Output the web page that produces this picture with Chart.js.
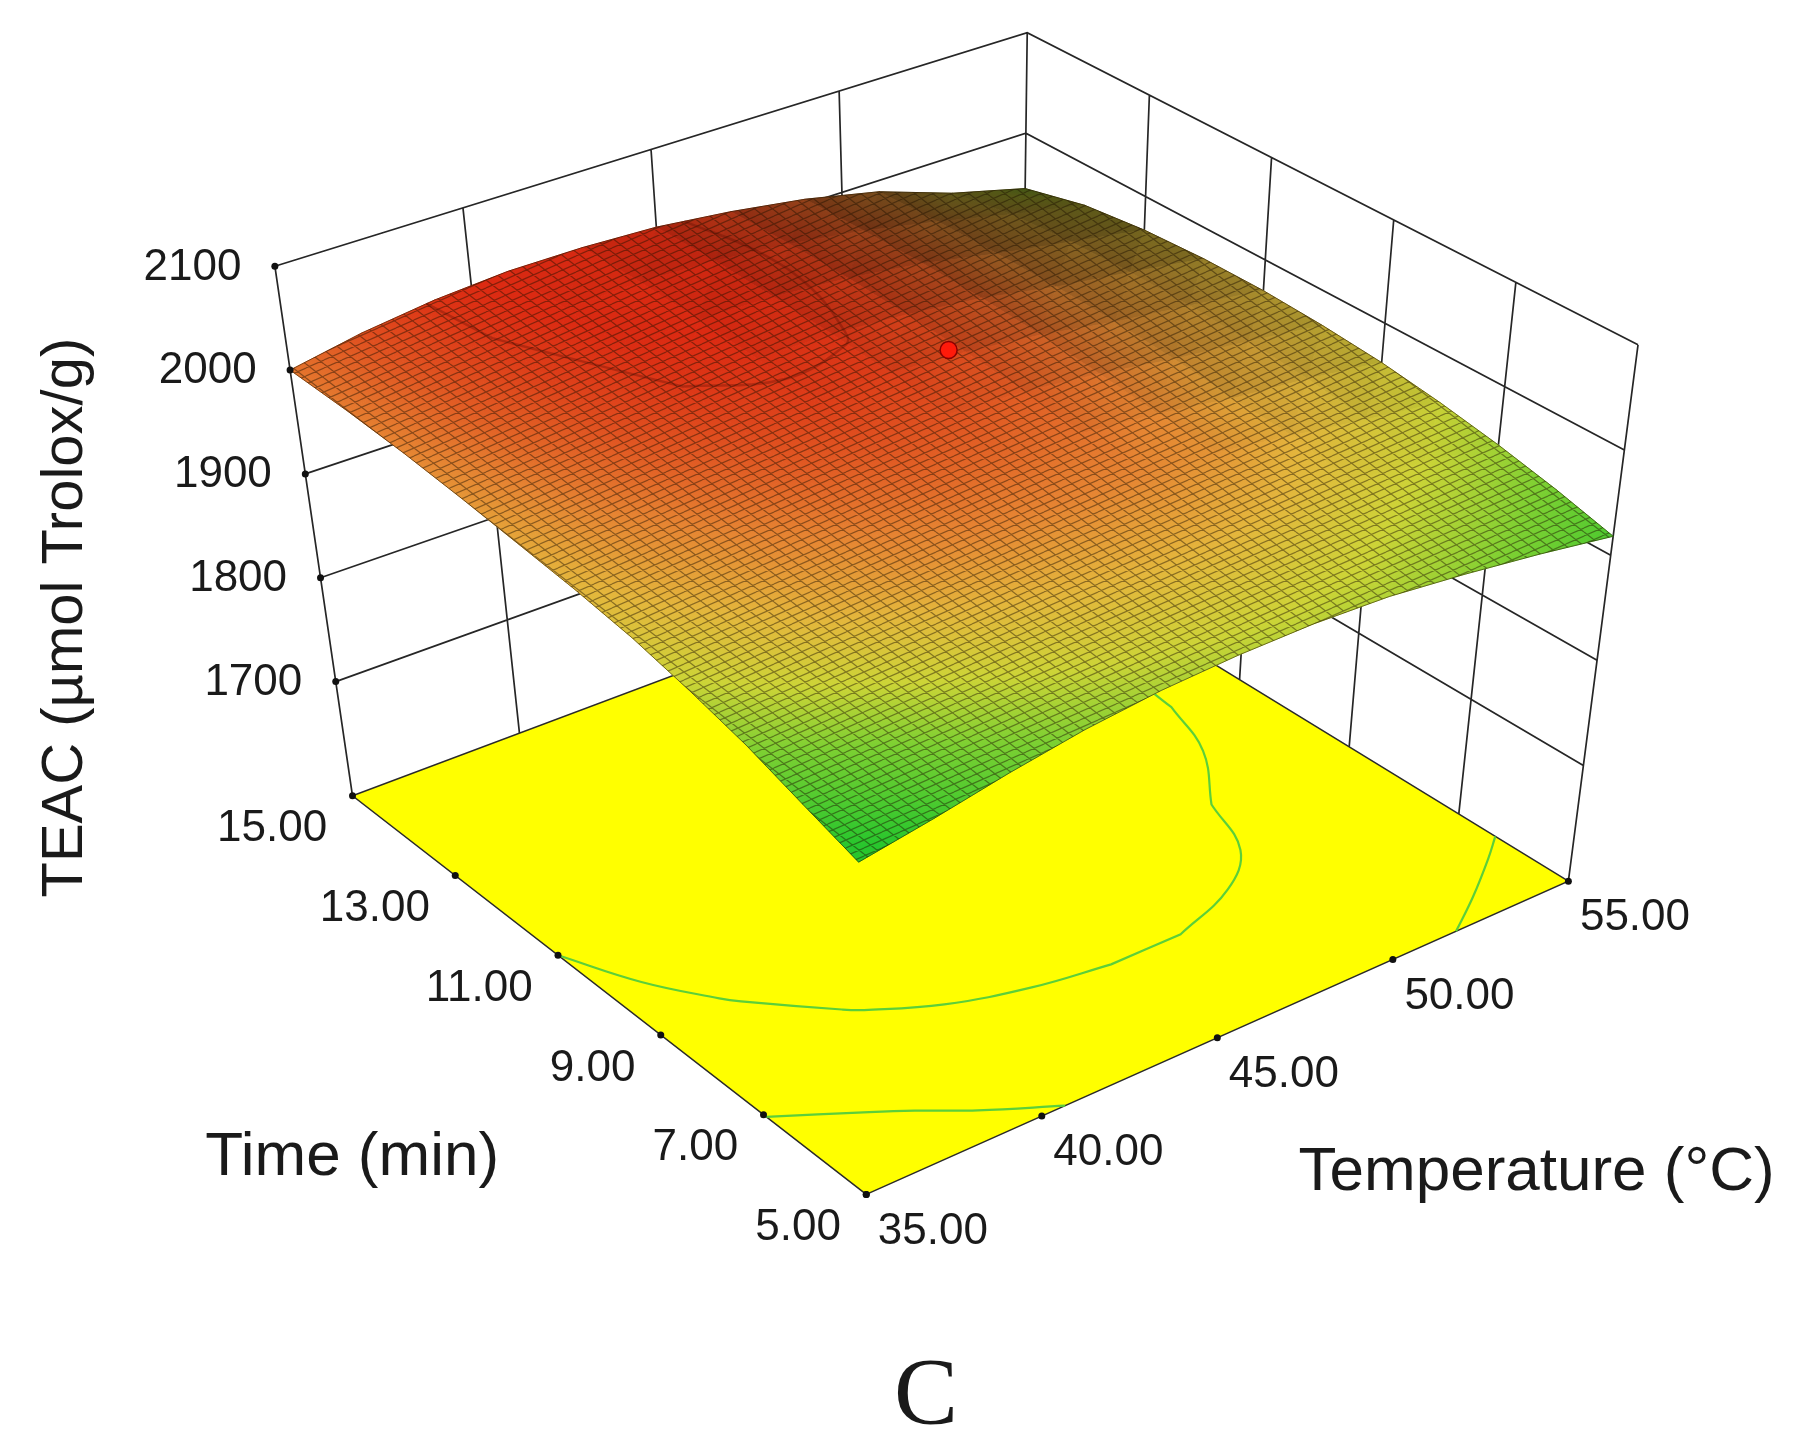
<!DOCTYPE html>
<html>
<head>
<meta charset="utf-8">
<title>TEAC response surface</title>
<script src="https://cdn.jsdelivr.net/npm/chart.js@4.4.1/dist/chart.umd.min.js"></script>
<style>
  html, body { margin: 0; padding: 0; background: #ffffff; }
  #wrap { width: 1801px; height: 1447px; position: relative; }
</style>
</head>
<body>
<div id="wrap"><canvas id="surface-chart"></canvas></div>
<script>
    // Values (rows: time, columns: temperature)
    const temps = [35, 37, 39, 41, 43, 45, 47, 49, 51, 53, 55];
    const times = [5, 6, 7, 8, 9, 10, 11, 12, 13, 14, 15];
    const teac = [
        [1900, 1912, 1926, 1938, 1946, 1950, 1951, 1948, 1940, 1930, 1918],
        [1918, 1930, 1944, 1955, 1963, 1966, 1966, 1961, 1952, 1943, 1932],
        [1937, 1950, 1962, 1972, 1978, 1981, 1981, 1976, 1966, 1955, 1944],
        [1952, 1967, 1979, 1989, 1994, 1995, 1994, 1988, 1977, 1965, 1954],
        [1965, 1979, 1991, 1999, 2004, 2004, 2001, 1993, 1981, 1973, 1962],
        [1974, 1989, 2000, 2008, 2012, 2012, 2008, 1999, 1987, 1978, 1967],
        [1981, 1997, 2008, 2015, 2019, 2018, 2013, 2004, 1991, 1981, 1970],
        [1988, 2003, 2014, 2021, 2023, 2022, 2016, 2007, 1993, 1982, 1970],
        [1994, 2008, 2018, 2024, 2026, 2024, 2018, 2008, 1993, 1980, 1967],
        [1998, 2011, 2021, 2026, 2028, 2025, 2018, 2007, 1992, 1975, 1960],
        [2000, 2013, 2022, 2027, 2027, 2024, 2016, 2005, 1989, 1964, 1945]
    ];

    const tempTicks = [35, 40, 45, 50, 55];
    const timeTicks = [5, 7, 9, 11, 13, 15];
    const teacTicks = [1700, 1800, 1900, 2000, 2100];
    const tempLabels = ['35.00', '40.00', '45.00', '50.00', '55.00'];
    const timeLabels = ['5.00', '7.00', '9.00', '11.00', '13.00', '15.00'];
    const teacLabels = ['1700', '1800', '1900', '2000', '2100'];
    const teacFloor = 1590;
    const floorContourLevels = [1936, 1981];
    const surfaceContourLevels = [2021];
    const designPoint = { temp: 45, time: 10, teac: 2074 };

    // Layout: a 1560 x 1253 view-unit frame stretched over the canvas
    const viewW = 1560;
    const viewH = 1253;
    const box = {
        floor: { front: [750, 1040], right: [1365, 765], back: [885, 470], left: [300, 690] },
        top: { front: [739, 560], right: [1426, 294], back: [891, 20], left: [232, 225] }
    };

    const tMin = temps[0], tMax = temps[temps.length - 1];
    const mMin = times[0], mMax = times[times.length - 1];
    const zTop = teacTicks[teacTicks.length - 1];
    const gap = { x: NaN, y: NaN };

    function bilinear(face, u, v) {
        const out = [];
        for (let k = 0; k < 2; k++) {
            const near = face.front[k] * (1 - u) + face.right[k] * u;
            const far = face.left[k] * (1 - u) + face.back[k] * u;
            out.push(near * (1 - v) + far * v);
        }
        return out;
    }

    // (temperature, time, TEAC) -> view units
    function project(temp, time, value) {
        const u = (temp - tMin) / (tMax - tMin);
        const v = (time - mMin) / (mMax - mMin);
        const w = (value - teacFloor) / (zTop - teacFloor);
        const lo = bilinear(box.floor, u, v);
        const hi = bilinear(box.top, u, v);
        return { x: lo[0] + (hi[0] - lo[0]) * w, y: lo[1] + (hi[1] - lo[1]) * w };
    }

    const colorStops = [
        [1905, [40, 198, 45]],
        [1935, [125, 208, 50]],
        [1955, [205, 212, 55]],
        [1975, [228, 182, 60]],
        [1995, [230, 132, 50]],
        [2025, [220, 42, 18]]
    ];
    const stopValues = colorStops.map(s => s[0]);

    function surfaceColor(z, shadow) {
        let c = colorStops[colorStops.length - 1][1];
        if (z <= colorStops[0][0]) {
            c = colorStops[0][1];
        } else {
            for (let k = 1; k < colorStops.length; k++) {
                const [z1, c1] = colorStops[k];
                if (z <= z1) {
                    const [z0, c0] = colorStops[k - 1];
                    const f = (z - z0) / (z1 - z0);
                    c = c0.map((ch, n) => ch + (c1[n] - ch) * f);
                    break;
                }
            }
        }
        const keep = 1 - Math.min(0.8, Math.max(0, shadow || 0));
        return 'rgb(' + c.map(ch => Math.round(ch * keep)).join(',') + ')';
    }

    // Linear gradient following TEAC over a projected triangle, darkened by a flat mesh shadow
    function triangleFill(chart, verts, zs, shadow) {
        const xs = chart.scales.x, ys = chart.scales.y;
        const zMean = (zs[0] + zs[1] + zs[2]) / 3;
        const lo = Math.min(...zs), hi = Math.max(...zs);
        if (!xs || !ys || !chart.chartArea || hi - lo < 1e-6) return surfaceColor(zMean, shadow);
        const P = verts.map(p => [xs.getPixelForValue(p.x), ys.getPixelForValue(p.y)]);
        const e1 = [P[1][0] - P[0][0], P[1][1] - P[0][1]];
        const e2 = [P[2][0] - P[0][0], P[2][1] - P[0][1]];
        const d1 = zs[1] - zs[0], d2 = zs[2] - zs[0];
        const det = e1[0] * e2[1] - e1[1] * e2[0];
        if (Math.abs(det) < 1e-6) return surfaceColor(zMean, shadow);
        const gx = (d1 * e2[1] - d2 * e1[1]) / det;
        const gy = (e1[0] * d2 - e2[0] * d1) / det;
        const g2 = gx * gx + gy * gy;
        const span = hi - lo;
        const a = P[zs.indexOf(lo)];
        const grad = chart.ctx.createLinearGradient(a[0], a[1], a[0] + gx * span / g2, a[1] + gy * span / g2);
        grad.addColorStop(0, surfaceColor(lo, shadow));
        stopValues.forEach(z => { if (z > lo && z < hi) grad.addColorStop((z - lo) / span, surfaceColor(z, shadow)); });
        grad.addColorStop(1, surfaceColor(hi, shadow));
        return grad;
    }

    function meshPattern() {
        const tile = document.createElement('canvas');
        tile.width = 18;
        tile.height = 56;
        const c = tile.getContext('2d');
        c.strokeStyle = 'rgba(30,18,0,0.45)';
        c.lineWidth = 1.3;
        c.beginPath();
        for (let y0 = -56; y0 <= 112; y0 += 8) { c.moveTo(0, y0); c.lineTo(18, y0 - 8); }
        for (let y0 = -56; y0 <= 112; y0 += 14) { c.moveTo(0, y0); c.lineTo(18, y0 + 14); }
        c.stroke();
        return c.createPattern(tile, 'repeat');
    }

    // marching squares over the value grid, chained into paths
    function contourPaths(level) {
        const segs = [];
        for (let j = 0; j < times.length - 1; j++) {
            for (let i = 0; i < temps.length - 1; i++) {
                const c = [[i, j], [i + 1, j], [i + 1, j + 1], [i, j + 1]];
                const pts = [];
                for (let k = 0; k < 4; k++) {
                    const [ia, ja] = c[k];
                    const [ib, jb] = c[(k + 1) % 4];
                    const za = teac[ja][ia], zb = teac[jb][ib];
                    if ((za < level) !== (zb < level)) {
                        const f = (level - za) / (zb - za);
                        pts.push([temps[ia] + f * (temps[ib] - temps[ia]), times[ja] + f * (times[jb] - times[ja])]);
                    }
                }
                if (pts.length >= 2) segs.push([pts[0], pts[1]]);
                if (pts.length === 4) segs.push([pts[2], pts[3]]);
            }
        }
        const key = p => p[0].toFixed(4) + ',' + p[1].toFixed(4);
        const ends = new Map();
        segs.forEach((s, n) => s.forEach(p => {
            const k = key(p);
            if (!ends.has(k)) ends.set(k, []);
            ends.get(k).push(n);
        }));
        const used = segs.map(() => false);
        const paths = [];
        segs.forEach((s, n) => {
            if (used[n]) return;
            used[n] = true;
            const path = [s[0], s[1]];
            [1, -1].forEach(dir => {
                let grow = true;
                while (grow) {
                    grow = false;
                    const tip = dir === 1 ? path[path.length - 1] : path[0];
                    for (const m of ends.get(key(tip))) {
                        if (used[m]) continue;
                        used[m] = true;
                        const other = key(segs[m][0]) === key(tip) ? segs[m][1] : segs[m][0];
                        if (dir === 1) path.push(other); else path.unshift(other);
                        grow = true;
                        break;
                    }
                }
            });
            paths.push(path);
        });
        return paths;
    }

    const datasets = [];

    // Back walls
    const wallPts = [];
    tempTicks.forEach(T => wallPts.push(project(T, mMax, teacFloor), project(T, mMax, zTop), gap));
    timeTicks.forEach(t => wallPts.push(project(tMax, t, teacFloor), project(tMax, t, zTop), gap));
    teacTicks.forEach(z => wallPts.push(project(tMin, mMax, z), project(tMax, mMax, z), project(tMax, mMin, z), gap));
    datasets.push({ data: wallPts, showLine: true, borderColor: '#262626', borderWidth: 1.7, pointRadius: 0, order: 10000 });

    // Floor
    const floorPts = [
        project(tMin, mMin, teacFloor), project(tMax, mMin, teacFloor),
        project(tMax, mMax, teacFloor), project(tMin, mMax, teacFloor), project(tMin, mMin, teacFloor)
    ];
    datasets.push({ data: floorPts, showLine: true, fill: 'shape', backgroundColor: '#ffff00', borderColor: '#2a2a2a', borderWidth: 1.5, pointRadius: 0, order: 9000 });

    // Contours on the floor
    floorContourLevels.forEach(level => {
        contourPaths(level).forEach(path => {
            datasets.push({
                data: path.map(p => project(p[0], p[1], teacFloor)),
                showLine: true, tension: 0.4, borderColor: '#5ccf3a', borderWidth: 2.2, pointRadius: 0, order: 8000
            });
        });
    });

    // Surface: grid cells split into triangles, far ones drawn first.
    // Cells seen edge-on (small projected area) are darkened, like a dense mesh.
    const nI = temps.length - 1, nJ = times.length - 1;
    const node = (i, j) => ({ z: teac[j][i], p: project(temps[i], times[j], teac[j][i]) });
    const cellArea = [];
    for (let j = 0; j < nJ; j++) {
        for (let i = 0; i < nI; i++) {
            const q = [node(i, j), node(i + 1, j), node(i + 1, j + 1), node(i, j + 1)].map(n => n.p);
            let a = 0;
            for (let k = 0; k < 4; k++) a += q[k].x * q[(k + 1) % 4].y - q[(k + 1) % 4].x * q[k].y;
            cellArea.push(Math.abs(a) / 2);
        }
    }
    const areaMax = Math.max(...cellArea);
    const nodeShadow = [];
    for (let j = 0; j <= nJ; j++) {
        const row = [];
        for (let i = 0; i <= nI; i++) {
            let sum = 0, n = 0;
            for (let dj = -2; dj <= 1; dj++) {
                for (let di = -2; di <= 1; di++) {
                    const ci = i + di, cj = j + dj;
                    if (ci < 0 || cj < 0 || ci >= nI || cj >= nJ) continue;
                    sum += cellArea[cj * nI + ci] / areaMax;
                    n++;
                }
            }
            const r = sum / n;
            row.push(Math.min(0.6, Math.max(0, (0.62 - r) / 0.4)));
        }
        nodeShadow.push(row);
    }

    for (let j = 0; j < nJ; j++) {
        for (let i = 0; i < nI; i++) {
            const depth = 0.59 * ((i + 0.5) / nI) + 0.81 * ((j + 0.5) / nJ);
            const tris = [
                [[i, j], [i + 1, j], [i + 1, j + 1]],
                [[i, j], [i + 1, j + 1], [i, j + 1]]
            ];
            tris.forEach((tri, k) => {
                const nodes = tri.map(([a, b]) => node(a, b));
                const verts = nodes.map(n => n.p);
                const zs = nodes.map(n => n.z);
                const shadow = tri.reduce((s, [a, b]) => s + nodeShadow[b][a], 0) / 3;
                const style = ctx => triangleFill(ctx.chart, verts, zs, shadow);
                datasets.push({
                    data: verts.concat([verts[0]]), showLine: true, fill: 'shape',
                    backgroundColor: style, borderColor: style, borderWidth: 1,
                    pointRadius: 0, order: 1000 + depth * 1000 + k * 0.01
                });
            });
        }
    }

    // Mesh texture over the surface outline
    const rim = [];
    for (let i = 0; i <= nI; i++) rim.push(node(i, 0).p);
    for (let j = 1; j <= nJ; j++) rim.push(node(nI, j).p);
    for (let i = nI - 1; i >= 0; i--) rim.push(node(i, nJ).p);
    for (let j = nJ - 1; j >= 0; j--) rim.push(node(0, j).p);
    datasets.push({ data: rim, showLine: true, fill: 'shape', backgroundColor: meshPattern(), borderColor: 'rgba(40,25,0,0.55)', borderWidth: 1, pointRadius: 0, order: 600 });

    // Contour near the optimum, drawn on the surface
    surfaceContourLevels.forEach(level => {
        contourPaths(level).forEach(path => {
            datasets.push({
                data: path.map(p => project(p[0], p[1], level)),
                showLine: true, tension: 0.4, borderColor: 'rgba(80,10,0,0.3)', borderWidth: 2.5, pointRadius: 0, order: 500
            });
        });
    });

    // Tick dots
    const tickPts = [];
    teacTicks.forEach(z => tickPts.push(project(tMin, mMax, z)));
    timeTicks.forEach(t => tickPts.push(project(tMin, t, teacFloor)));
    tempTicks.forEach(T => tickPts.push(project(T, mMin, teacFloor)));
    datasets.push({ data: tickPts, showLine: false, pointRadius: 3.5, pointBackgroundColor: '#111111', pointBorderWidth: 0, order: 100 });

    // Design point
    datasets.push({
        data: [project(designPoint.temp, designPoint.time, designPoint.teac)],
        showLine: false, pointRadius: 8.5, pointBackgroundColor: '#ff1a0a',
        pointBorderColor: '#8a0000', pointBorderWidth: 1.5, order: 50
    });

    const axisText = {
        id: 'axisText',
        afterDatasetsDraw(chart) {
            const { ctx } = chart;
            const xs = chart.scales.x, ys = chart.scales.y;
            const K = chart.width / viewW;
            const at = p => [xs.getPixelForValue(p.x), ys.getPixelForValue(p.y)];
            ctx.save();
            ctx.fillStyle = '#1a1a1a';
            ctx.textBaseline = 'middle';
            ctx.font = '44px "Liberation Sans", Arial, sans-serif';

            ctx.textAlign = 'right';
            teacTicks.forEach((z, k) => {
                const [x, y] = at(project(tMin, mMax, z));
                ctx.fillText(teacLabels[k], x - 29 * K, y + 1 * K);
            });
            timeTicks.forEach((t, k) => {
                const [x, y] = at(project(tMin, t, teacFloor));
                ctx.fillText(timeLabels[k], x - 22 * K, y + 29 * K);
            });
            ctx.textAlign = 'left';
            tempTicks.forEach((T, k) => {
                const [x, y] = at(project(T, mMin, teacFloor));
                ctx.fillText(tempLabels[k], x + 10 * K, y + 32 * K);
            });

            ctx.textAlign = 'center';
            ctx.font = '62px "Liberation Sans", Arial, sans-serif';
            ctx.fillText('Time (min)', 305 * K, 1003 * K);
            ctx.fillText('Temperature (\u00B0C)', 1331 * K, 1016 * K);
            ctx.font = '58px "Liberation Sans", Arial, sans-serif';
            ctx.save();
            ctx.translate(57 * K, 535 * K);
            ctx.rotate(-Math.PI / 2);
            ctx.fillText('TEAC (\u00B5mol Trolox/g)', 0, 0);
            ctx.restore();

            ctx.font = '96px "Liberation Serif", "Times New Roman", serif';
            ctx.fillText('C', 802 * K, 1212 * K);
            ctx.restore();
        }
    };

    new Chart(document.getElementById('surface-chart'), {
        type: 'scatter',
        data: { datasets: datasets },
        options: {
            responsive: true,
            maintainAspectRatio: false,
            animation: false,
            events: [],
            layout: { padding: 0 },
            plugins: {
                legend: { display: false },
                tooltip: { enabled: false }
            },
            elements: { line: { tension: 0 } },
            scales: {
                x: { type: 'linear', min: 0, max: viewW, display: false },
                y: { type: 'linear', min: 0, max: viewH, reverse: true, display: false }
            }
        },
        plugins: [axisText]
    });
</script>
</body>
</html>
